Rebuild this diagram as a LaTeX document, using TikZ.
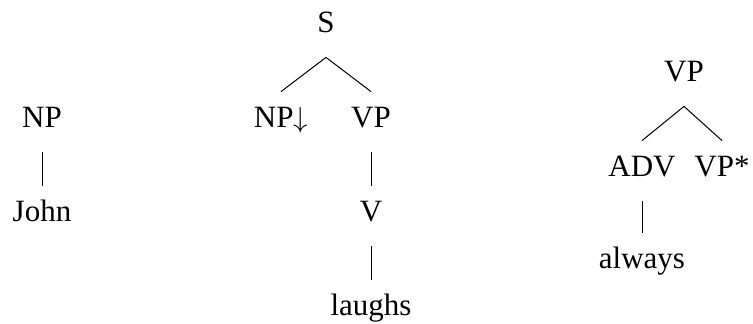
\documentclass[tikz,border=0pt]{standalone}
\usepackage{fontspec}
\setmainfont{Liberation Serif}
\begin{document}
\begin{tikzpicture}[x=0.5pt,y=-0.5pt,
  lbl/.style={anchor=base, inner xsep=0pt, inner ysep=8pt, text height=10pt, text depth=4pt,
    font=\fontsize{15.5}{18}\selectfont},
  edge/.style={line width=0.5pt}]
\useasboundingbox (0,0) rectangle (753,324);
% left tree
\node[lbl] (np1) at (42,128) {NP};
\node[lbl] (john) at (42,222) {John};
\draw[edge] (np1.south) -- (john.north);
% middle tree
\node[lbl] (s) at (326,33) {S};
\node[lbl] (np2) at (281,128) {NP$\downarrow$};
\node[lbl] (vp1) at (371,128) {VP};
\node[lbl] (v) at (371,222) {V};
\node[lbl] (laughs) at (371,316) {laughs};
\draw[edge] (np2.north) -- (s.south) -- (vp1.north);
\draw[edge] (vp1.south) -- (v.north);
\draw[edge] (v.south) -- (laughs.north);
% right tree
\node[lbl] (vp2) at (684,82) {VP};
\node[lbl] (adv) at (642,177) {ADV};
\node[lbl] (vp3) at (722,177) {VP*};
\node[lbl] (always) at (642,269) {always};
\draw[edge] (adv.north) -- (vp2.south) -- (vp3.north);
\draw[edge] (adv.south) -- (always.north);
\end{tikzpicture}
\end{document}
